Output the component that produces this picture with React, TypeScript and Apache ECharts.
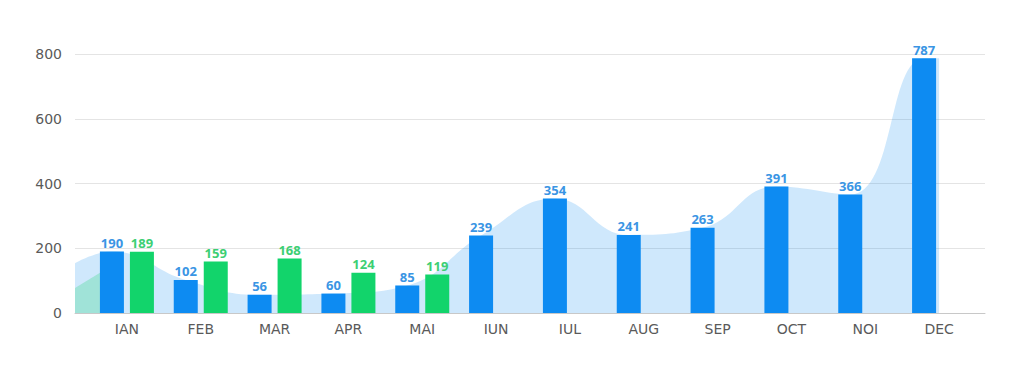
import React, { useEffect, useRef } from "react";
import * as echarts from "echarts";

// ---- data ----
const months = ["IAN", "FEB", "MAR", "APR", "MAI", "IUN", "IUL", "AUG", "SEP", "OCT", "NOI", "DEC"];
const blueValues = [190, 102, 56, 60, 85, 239, 354, 241, 263, 391, 366, 787];
const greenValues: (number | null)[] = [189, 159, 168, 124, 119, null, null, null, null, null, null, null];
const yTicks = [0, 200, 400, 600, 800];
// smooth area edges (values at the left / right ends of the shaded area)
const blueAreaLeftValue = 154;
const blueAreaRightValue = 787;
const greenAreaValues = [77, 147];

// ---- layout ----
const W = 1024;
const H = 368;
const PLOT_LEFT = 75;
const PLOT_RIGHT = 985;
const BAND_LEFT = 90;
const BAND_RIGHT = 976;
const TOP = 54;
const BOTTOM = 313;
const BAR_W = 24;
const BAR_GAP = 6;

const BLUE = "#0d8bf2";
const GREEN = "#12d46b";
const AXIS_FONT = "DejaVu Sans";

export default function App() {
  const ref = useRef<HTMLDivElement>(null);

  useEffect(() => {
    if (!ref.current) return;
    const chart = echarts.init(ref.current, undefined, { renderer: "svg" });

    const bandW = (BAND_RIGHT - BAND_LEFT) / months.length;
    const xMin = -0.5 - (BAND_LEFT - PLOT_LEFT) / bandW;
    const xMax = months.length - 0.5 + (PLOT_RIGHT - BAND_RIGHT) / bandW;
    const blueOffset = -(BAR_W + BAR_GAP) / 2 / bandW;

    const blueArea: [number, number][] = [
      [xMin, blueAreaLeftValue],
      ...blueValues.map((v, i) => [i + blueOffset, v] as [number, number]),
      [months.length - 1, blueAreaRightValue],
    ];
    const greenArea: [number, number][] = [
      [xMin, greenAreaValues[0]],
      [blueOffset, greenAreaValues[1]],
    ];

    const yMax = yTicks[yTicks.length - 1];
    const interval = yTicks[1] - yTicks[0];

    const option: any = {
      animation: false,
      backgroundColor: "#ffffff",
      grid: [
        {
          left: PLOT_LEFT,
          right: W - PLOT_RIGHT,
          top: TOP,
          bottom: H - BOTTOM,
          containLabel: false,
          outerBoundsMode: "none",
        },
        {
          left: BAND_LEFT,
          right: W - BAND_RIGHT,
          top: TOP,
          bottom: H - BOTTOM,
          containLabel: false,
          outerBoundsMode: "none",
        },
      ],
      xAxis: [
        {
          gridIndex: 0,
          type: "value",
          min: xMin,
          max: xMax,
          axisLine: { show: true, lineStyle: { color: "#c8c8c8", width: 1 } },
          axisTick: { show: false },
          axisLabel: { show: false },
          splitLine: { show: false },
        },
        {
          gridIndex: 1,
          type: "category",
          data: months,
          axisLine: { show: false },
          axisTick: { show: false },
          axisLabel: {
            color: "#5a5a5a",
            fontSize: 14,
            fontFamily: AXIS_FONT,
            margin: 9,
          },
        },
      ],
      yAxis: [
        {
          gridIndex: 0,
          type: "value",
          min: 0,
          max: yMax,
          interval,
          axisLine: { show: false },
          axisTick: { show: false },
          axisLabel: {
            color: "#5a5a5a",
            fontSize: 14,
            fontFamily: AXIS_FONT,
            margin: 13,
          },
          splitLine: { show: true, lineStyle: { color: "#e4e4e4", width: 1 } },
        },
        {
          gridIndex: 1,
          type: "value",
          min: 0,
          max: yMax,
          interval,
          show: false,
          splitLine: { show: false },
        },
      ],
      series: [
        {
          type: "line",
          xAxisIndex: 0,
          yAxisIndex: 0,
          data: blueArea,
          smooth: 0.45,
          symbol: "none",
          lineStyle: { width: 0 },
          areaStyle: { color: "rgba(13,139,242,0.2)", opacity: 1 },
          z: 1,
          silent: true,
        },
        {
          type: "line",
          xAxisIndex: 0,
          yAxisIndex: 0,
          data: greenArea,
          symbol: "none",
          lineStyle: { width: 0 },
          areaStyle: { color: "rgba(18,212,107,0.25)", opacity: 1 },
          z: 1,
          silent: true,
        },
        {
          type: "bar",
          xAxisIndex: 1,
          yAxisIndex: 1,
          data: blueValues,
          barWidth: BAR_W,
          barGap: (BAR_GAP / BAR_W) * 100 + "%",
          itemStyle: { color: BLUE },
          label: {
            show: true,
            position: "top",
            distance: 2,
            color: "#3a95e4",
            fontSize: 13,
            fontWeight: "bold",
            fontFamily: "Open Sans",
          },
          z: 3,
        },
        {
          type: "bar",
          xAxisIndex: 1,
          yAxisIndex: 1,
          data: greenValues,
          barWidth: BAR_W,
          barGap: (BAR_GAP / BAR_W) * 100 + "%",
          itemStyle: { color: GREEN },
          label: {
            show: true,
            position: "top",
            distance: 2,
            color: "#3ccf73",
            fontSize: 13,
            fontWeight: "bold",
            fontFamily: "Open Sans",
          },
          z: 3,
        },
      ],
    };

    chart.setOption(option);
    return () => {
      chart.dispose();
    };
  }, []);

  return (
    <div
      ref={ref}
      style={{ position: "absolute", left: 0, top: 0, width: W, height: H }}
    />
  );
}
